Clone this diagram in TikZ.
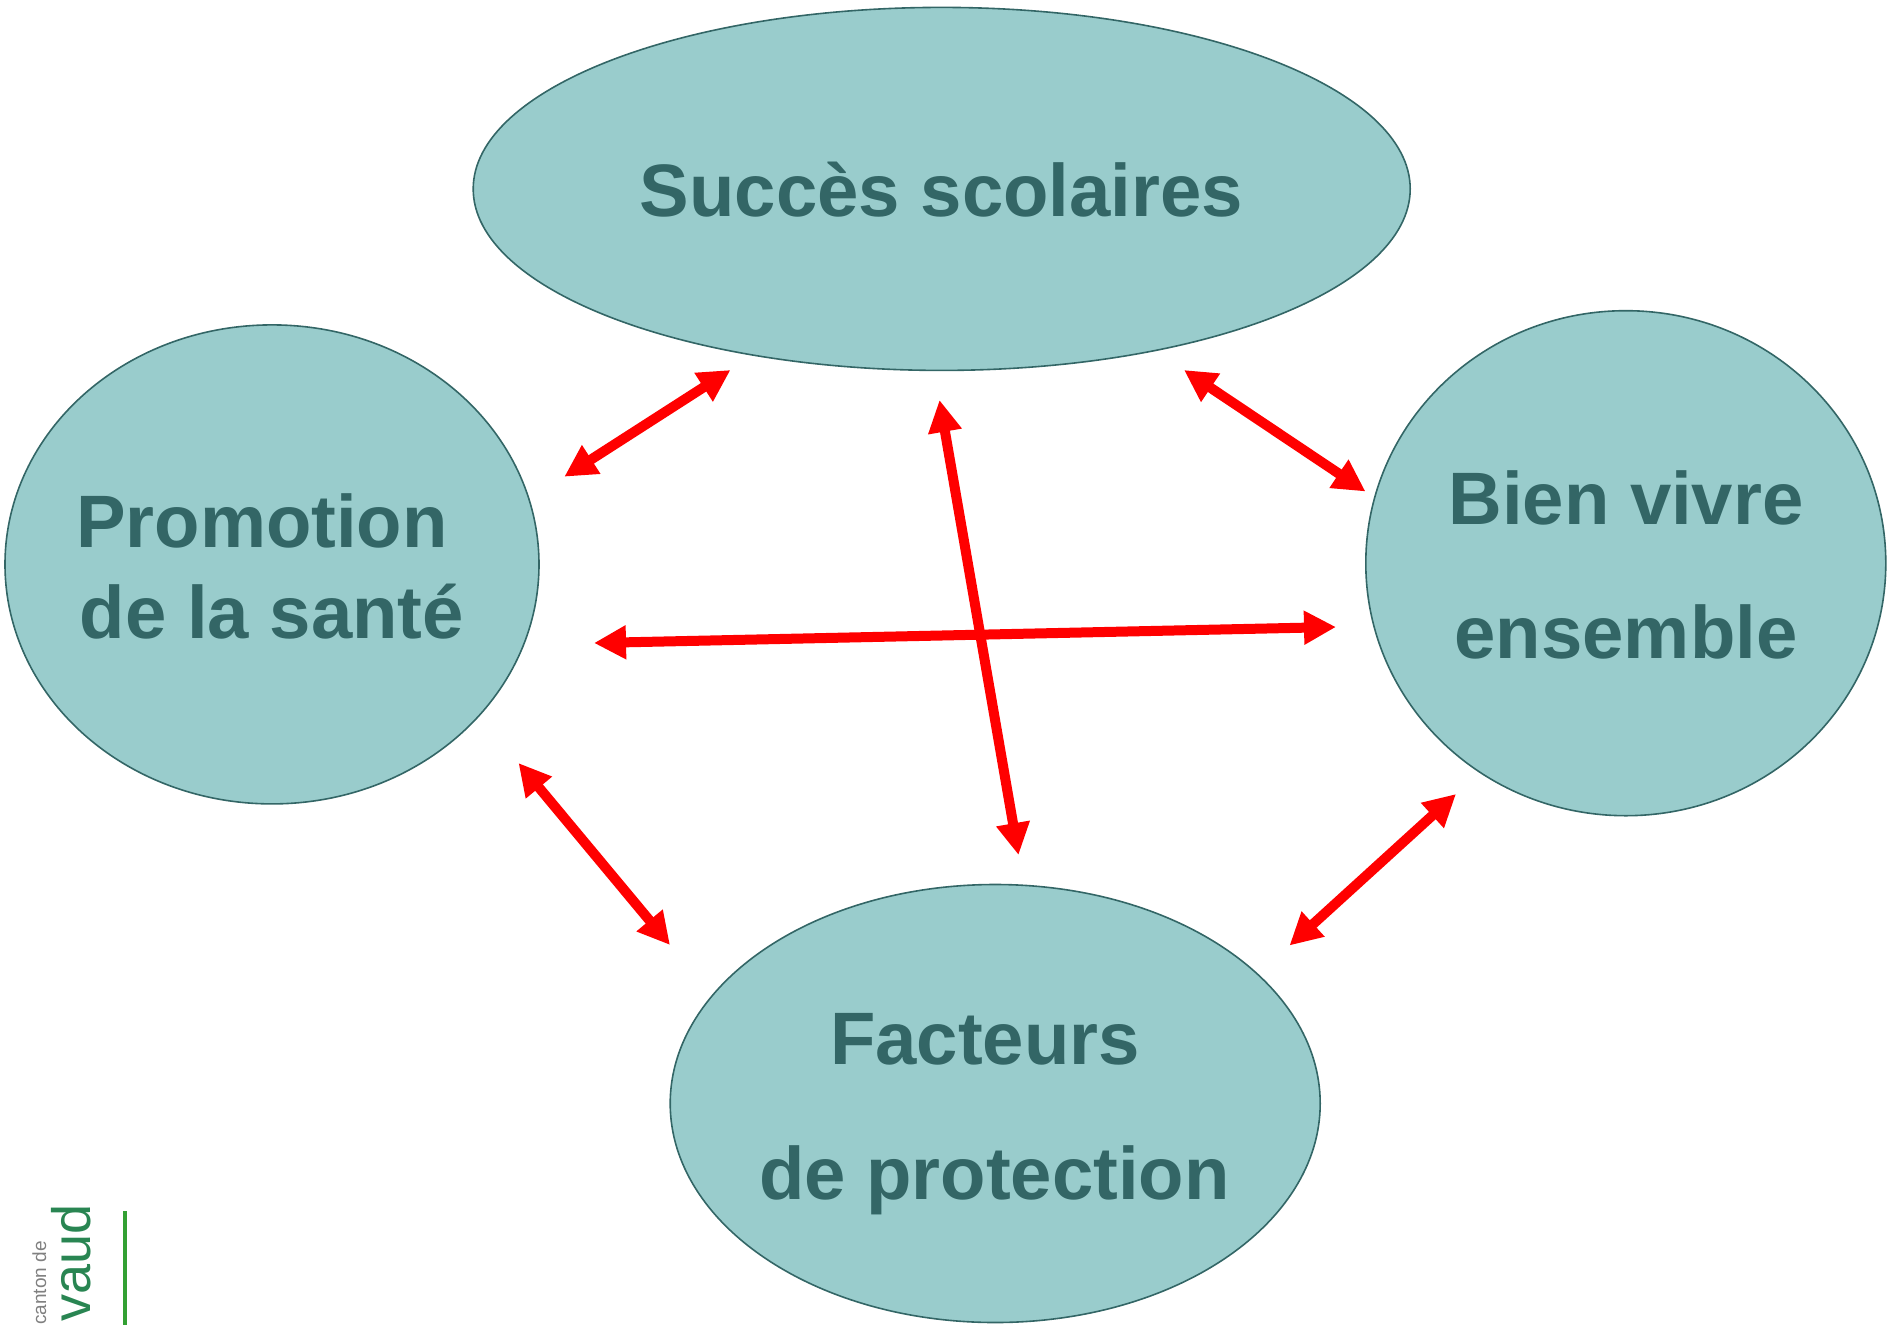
\documentclass[tikz,border=0pt]{standalone}
\usepackage{fontspec}
\setmainfont{Liberation Sans}
\usetikzlibrary{arrows.meta,shapes.geometric}
\definecolor{tealfill}{HTML}{99CCCC}
\definecolor{tealdark}{HTML}{336666}
\definecolor{logogreen}{HTML}{33A033}
\tikzset{
  blob/.style={ellipse,draw=tealdark,fill=tealfill,line width=1.6pt,inner sep=0pt,outer sep=0pt},
  lbl/.style={text=tealdark,font=\fontsize{74.3}{74.3}\selectfont\bfseries,inner sep=0pt,anchor=base},
  link/.style={draw=red,line width=10pt,{Triangle[length=32pt,width=32pt]}-{Triangle[length=32pt,width=32pt]}}
}
\begin{document}
\begin{tikzpicture}[x=1pt,y=-1pt]
\useasboundingbox (0,0) rectangle (1887,1325);
\node[blob,minimum width=937pt,minimum height=363pt] (succ) at (941.7,188.9) {};
\node[blob,minimum width=534pt,minimum height=479pt] (promo) at (272,564.4) {};
\node[blob,minimum width=520pt,minimum height=505pt] (bien) at (1625.8,563.2) {};
\node[blob,minimum width=650pt,minimum height=438pt] (fact) at (995.2,1103.5) {};
\node[lbl] (t1) at (941.5,216.5) {Succès scolaires};
\node[lbl] (t2) at (262,547.5) {Promotion};
\node[lbl] (t3) at (272,638) {de la santé};
\node[lbl] (t4) at (1626,524) {Bien vivre};
\node[lbl] (t5) at (1626,658) {ensemble};
\node[lbl] (t6) at (985,1064) {Facteurs};
\node[lbl] (t7) at (994.5,1199) {de protection};
\coordinate (a1) at (564.3,476.7); \coordinate (b1) at (730.5,370);
\coordinate (a2) at (1184,370);    \coordinate (b2) at (1365.5,491.5);
\coordinate (a3) at (939.5,400);   \coordinate (b3) at (1018.5,855);
\coordinate (a4) at (594,643);     \coordinate (b4) at (1336,627);
\coordinate (a5) at (518.5,763);   \coordinate (b5) at (670,945);
\coordinate (a6) at (1456,794);    \coordinate (b6) at (1289.5,945.5);
\foreach \i in {1,...,6} \draw[link] (a\i) -- (b\i);
\node[rotate=90,inner sep=0pt,anchor=base west,text=gray,font=\fontsize{19}{19}\selectfont] (canton) at (46,1325) {canton de};
\node[rotate=90,inner sep=0pt,anchor=base west,text=tealdark!80!green,font=\fontsize{54}{54}\selectfont] (vaud) at (90,1322) {vaud};
\coordinate (g1) at (125,1211); \coordinate (g2) at (125,1325);
\draw[logogreen,line width=4pt] (g1) -- (g2);
\end{tikzpicture}
\end{document}
